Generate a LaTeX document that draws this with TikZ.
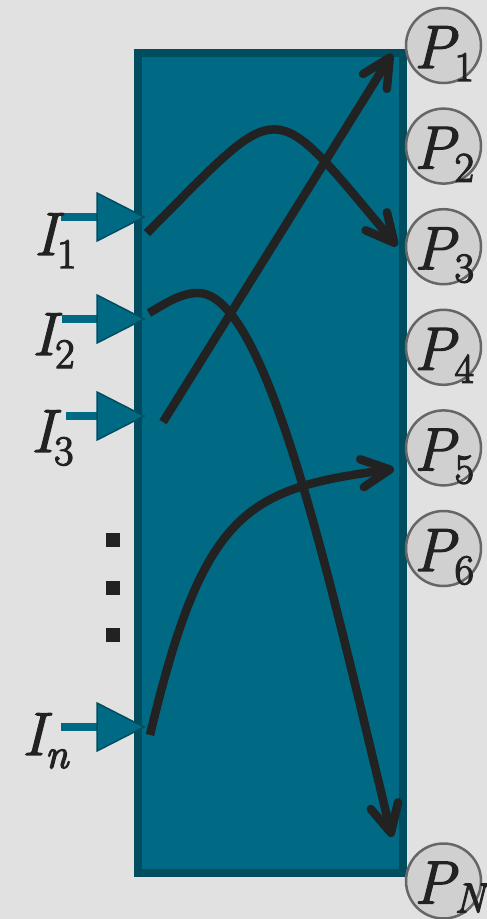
\documentclass[tikz,border=0pt]{standalone}
\usepackage{fontspec}
\usetikzlibrary{arrows.meta}
\definecolor{bg}{HTML}{E1E1E1}
\definecolor{tealfill}{HTML}{006A85}
\definecolor{tealedge}{HTML}{004D60}
\definecolor{ink}{HTML}{222222}
\definecolor{cfill}{HTML}{D0D0D0}
\definecolor{cline}{HTML}{666666}
\newcommand{\heavy}[1]{\special{pdf:literal direct 2 Tr 1.3 w}#1\special{pdf:literal direct 0 Tr}}
\newcommand{\symlab}[3][-13pt]{\heavy{{\itshape #2}\raisebox{#1}{\fontsize{42}{42}\selectfont #3}}}
\begin{document}
\begin{tikzpicture}[x=1pt,y=-1pt,
  outport/.style={circle, draw=cline, fill=cfill, line width=2.5pt, minimum size=75pt, inner sep=0pt},
  biglabel/.style={anchor=base west, inner sep=0pt, text=ink, font=\fontsize{61}{61}\selectfont},
  flow/.style={draw=ink, line width=8.5pt, -{Straight Barb[length=28pt,width=28pt,round]}},
  feed/.style={draw=tealfill, line width=8pt},
  head/.style={fill=tealfill, draw=tealedge, line width=1.5pt, line join=miter},
  dotmark/.style={fill=ink}
]
% background / bounding box
\fill[bg] (0,0) rectangle (487,919);
\useasboundingbox (0,0) rectangle (487,919);

% main block
\draw[fill=tealfill, draw=tealedge, line width=8pt] (138,53) rectangle (403,873);

% output ports
\foreach \k/\yy/\sub in {1/45.5/1,2/146.1/2,3/246.7/3,4/347.3/4,5/447.9/5,6/548.5/6} {
  \node[outport] (p\k) at (443.5,\yy) {};
  \node[biglabel] (lp\k) at (414,\yy+22.5) {\symlab{P}{\sub}};
}
\node[outport] (pN) at (443.5,881) {};
\node[biglabel] (lpN) at (414,903.5) {\symlab[-9pt]{P}{\itshape N}};

% input feeds
\foreach \k/\yy/\xs in {1/217/61,2/319/62,3/416/66,n/727/61} {
  \coordinate (f\k) at (\xs,\yy);
  \coordinate (b\k) at (99,\yy);
  \draw[feed] (f\k) -- (b\k);
  \draw[head] (97,\yy-24) -- (144,\yy) -- (97,\yy+24) -- cycle;
}

% input labels
\node[biglabel] (li1) at (34,255) {\symlab{I}{1}};
\node[biglabel] (li2) at (32,355) {\symlab{I}{2}};
\node[biglabel] (li3) at (31,452) {\symlab{I}{3}};
\node[biglabel] (lin) at (22,755) {\symlab{I}{\itshape n}};

% vertical dots
\foreach \yy in {540,588,635} {
  \fill[dotmark] (106,\yy-7) rectangle (120,\yy+7);
}

% flows
\coordinate (s1) at (147,233);
\coordinate (s2) at (149,313);
\coordinate (s3) at (163,422);
\coordinate (sn) at (150,735);
\coordinate (e1) at (397,246);
\coordinate (e2) at (392,837);
\coordinate (e3) at (392,54);
\coordinate (en) at (394,469);
\draw[flow] (s1) .. controls (285,95) and (268,92.5) .. (e1);
\draw[flow] (s3) -- (e3);
\draw[flow] (s2) .. controls (166,303) and (181,293) .. (198,293)
                  .. controls (268,293) and (331,587) .. (e2);
\draw[flow] (sn) .. controls (203,512) and (245.5,488.5) .. (en);
\end{tikzpicture}
\end{document}
